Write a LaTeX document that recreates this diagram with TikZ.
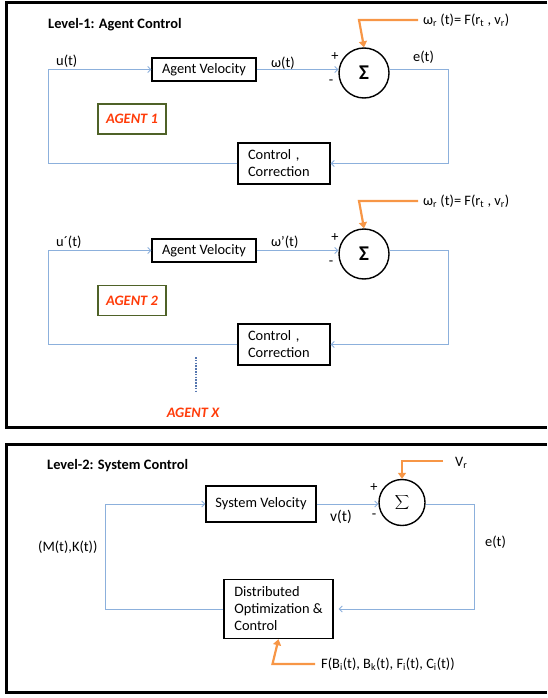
\documentclass[tikz,border=0pt]{standalone}
\usepackage{fontspec}
\setmainfont{Carlito}
\usetikzlibrary{arrows.meta}
\definecolor{bl}{RGB}{140,176,220}
\definecolor{org}{RGB}{247,150,70}
\definecolor{olivec}{RGB}{79,98,40}
\definecolor{agred}{RGB}{255,60,10}
\definecolor{dotc}{RGB}{85,118,175}
\begin{document}
\begin{tikzpicture}[x=1pt,y=-1pt,font=\fontsize{14.4}{17}\selectfont,
 blk/.style={draw=black,line width=1.4pt,inner sep=0pt},
 ccbox/.style={blk,minimum height=41pt,text width=72pt,inner xsep=10pt,align=left},
 sumc/.style={circle,draw=black,line width=1.4pt,inner sep=0pt},
 bline/.style={draw=bl,line width=0.9pt},
 barrow/.style={bline,-{Straight Barb[length=3pt,width=6pt]}},
 oarrow/.style={draw=org,line width=2.2pt,-{Triangle[length=6pt,width=8pt]}},
 agentbox/.style={draw=olivec,line width=1.4pt,minimum width=68pt,minimum height=30pt,inner sep=0pt,text=agred,font=\fontsize{14.4}{17}\selectfont\bfseries\itshape},
 lbl/.style={anchor=west,inner sep=0pt},
 sgn/.style={inner sep=0pt},
 frame/.style={draw=black,line width=3pt}]
\useasboundingbox (0,0) rectangle (547,698);
% frames
\draw[frame] (547,3) -| (6.5,427) -- (547,427);
\draw[frame] (547,444) -| (6.5,692) -- (547,692);
% ---------------- Level 1
\node[lbl,font=\fontsize{14.4}{17}\selectfont\bfseries] (t1) at (48,25) {Level-1: Agent Control};
% agent 1
\node[blk,minimum width=104pt,minimum height=23pt] (av1) at (204,69.5) {Agent Velocity};
\node[sumc,minimum size=50pt] (s1) at (364,73) {\fontsize{21}{21}\selectfont\bfseries Σ};
\node[ccbox] (cc1) at (284,163.5) {Control ,\\Correction};
\node[agentbox] (ag1) at (132,119) {AGENT 1};
\node[lbl] (u1) at (56,61) {u(t)};
\node[lbl] (w1) at (271,63) {ω(t)};
\node[sgn] (p1) at (335,57) {+};
\node[sgn] (m1) at (331,82) {-};
\node[lbl] (e1) at (413,57) {e(t)};
\node[lbl] (wr1) at (423,20) {ω\textsubscript{r} (t)= F(r\textsubscript{t} , v\textsubscript{r})};
\coordinate (l1) at (48,69.5);
\coordinate (r1) at (448,69.5);
\coordinate (rb1) at (448,163.5);
\coordinate (lb1) at (48,163.5);
\draw[barrow] (av1.east) -- (av1.east -| s1.west);
\draw[barrow] (s1.east |- av1.east) -- (r1) -- (rb1) -- (cc1.east);
\draw[barrow] (cc1.west) -- (lb1) -- (l1) -- (av1.west);
\draw[oarrow] ([xshift=-5pt]wr1.west) -- ([xshift=-5pt]wr1.west -| s1.north) -- (s1.north);
% agent 2
\node[blk,minimum width=104pt,minimum height=23pt] (av2) at (204,250.5) {Agent Velocity};
\node[sumc,minimum size=50pt] (s2) at (364,254) {\fontsize{21}{21}\selectfont\bfseries Σ};
\node[ccbox] (cc2) at (284,344.5) {Control ,\\Correction};
\node[agentbox] (ag2) at (132,300.5) {AGENT 2};
\node[lbl] (u2) at (56,242) {u´(t)};
\node[lbl] (w2) at (271,242) {ω’(t)};
\node[sgn] (p2) at (335,238) {+};
\node[sgn] (m2) at (331,263) {-};
\node[lbl] (wr2) at (423,201) {ω\textsubscript{r} (t)= F(r\textsubscript{t} , v\textsubscript{r})};
\coordinate (l2) at (48,250.5);
\coordinate (r2) at (448,250.5);
\coordinate (rb2) at (448,344.5);
\coordinate (lb2) at (48,344.5);
\draw[barrow] (av2.east) -- (av2.east -| s2.west);
\draw[barrow] (s2.east |- av2.east) -- (r2) -- (rb2) -- (cc2.east);
\draw[barrow] (cc2.west) -- (lb2) -- (l2) -- (av2.west);
\draw[oarrow] ([xshift=-5pt]wr2.west) -- ([xshift=-5pt]wr2.west -| s2.north) -- (s2.north);
% agent X
\draw[dotc,line width=2pt,dash pattern=on 1.5pt off 1.3pt] (196,357) -- (196,393);
\node[inner sep=0pt,text=agred,font=\fontsize{14.4}{17}\selectfont\bfseries\itshape] (agx) at (193,413) {AGENT X};
% ---------------- Level 2
\node[lbl,font=\fontsize{14.4}{17}\selectfont\bfseries] (t2) at (47,466) {Level-2: System Control};
\node[blk,minimum width=110pt,minimum height=36pt] (sv) at (261,504) {System Velocity};
\node[sumc,minimum size=46pt] (s3) at (402,502.5) {$\displaystyle\sum$};
\node[blk,minimum width=109pt,minimum height=59pt,align=left] (dd) at (278.5,609) {Distributed\\Optimization \&\\Control};
\node[sgn] (p3) at (374,488) {+};
\node[sgn] (m3) at (374,516) {-};
\node[lbl,font=\fontsize{15.5}{17}\selectfont] (vt) at (330,517) {v(t)};
\node[lbl] (vr) at (455,463) {V\textsubscript{r}};
\node[lbl] (e3) at (485,542) {e(t)};
\node[lbl] (mk) at (38,547) {(M(t),K(t))};
\node[lbl] (ff) at (321,664) {F(B\textsubscript{i}(t), B\textsubscript{k}(t), F\textsubscript{i}(t), C\textsubscript{i}(t))};
\coordinate (l3) at (105,504);
\coordinate (r3) at (474,504);
\coordinate (rb3) at (474,609);
\coordinate (lb3) at (105,609);
\draw[barrow] (sv.east) -- (sv.east -| s3.west);
\draw[barrow,shorten >=5pt] (s3.east |- sv.east) -- (r3) -- (rb3) -- (dd.east);
\draw[barrow] (dd.west) -- (lb3) -- (l3) -- (sv.west);
\draw[oarrow] (443,461) -- (443,461 -| s3.north) -- (s3.north);
\draw[oarrow] ([xshift=-6pt]ff.west) -- ([xshift=-6pt]ff.west -| dd.south) -- (dd.south);
\end{tikzpicture}
\end{document}
